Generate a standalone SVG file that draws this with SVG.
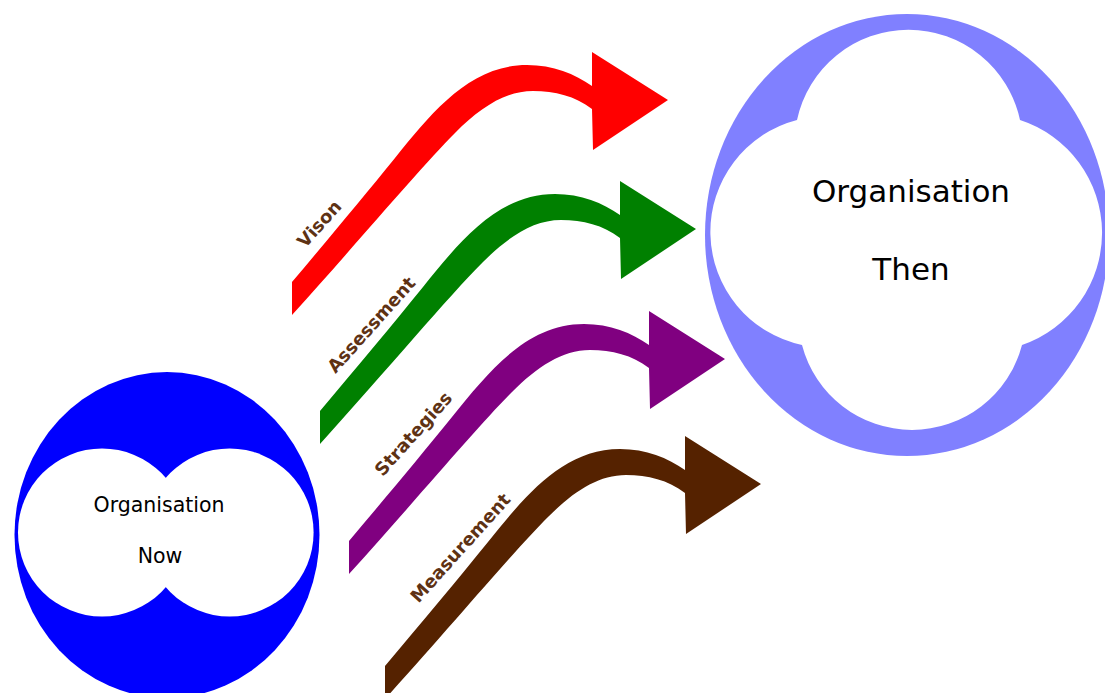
<svg xmlns="http://www.w3.org/2000/svg" xmlns:xlink="http://www.w3.org/1999/xlink" width="1105" height="693" viewBox="0 0 1105 693">
<defs>
<style>
.node-text{font-family:"DejaVu Sans","Liberation Sans",sans-serif;fill:#000;text-anchor:middle}
.label{font-family:"DejaVu Sans","Liberation Sans",sans-serif;font-weight:bold;font-size:18px;fill:#5e3214;text-anchor:middle}
</style>
<path id="arrow" d="M292,282 C330,237 365,195 395,158 C432,112 470,65 527,65 C553,65 575,74 592,86 L592,52 L668,100 L593,150 L592,109 C575,96 555,91 533,91 C505,91 480,108 455,133 C420,168 360,240 292,315 Z"/>
</defs>
<rect width="1105" height="693" fill="#fff"/>
<g id="now">
<ellipse cx="167" cy="535" rx="152.5" ry="163" fill="#0000ff"/>
<circle cx="102" cy="532.5" r="84" fill="#fff"/>
<circle cx="229.6" cy="532.5" r="84" fill="#fff"/>
<text class="node-text" x="159" y="512" font-size="20.5">Organisation</text>
<text class="node-text" x="160" y="563" font-size="20.5">Now</text>
</g>
<g id="then">
<ellipse cx="907" cy="235" rx="202" ry="221" fill="#8080ff"/>
<path d="M797,120 A114,114 0 0 1 1020,120 A118.6,118.6 0 0 1 1022,345 A113.7,113.7 0 0 1 802,345 A115.6,115.6 0 0 1 797,120 Z" fill="#fff"/>
<text class="node-text" x="911" y="202" font-size="31">Organisation</text>
<text class="node-text" x="911" y="280" font-size="31">Then</text>
</g>
<g id="connectors">
<use xlink:href="#arrow" href="#arrow" fill="#ff0000"/>
<use xlink:href="#arrow" href="#arrow" fill="#008000" transform="translate(28,129)"/>
<use xlink:href="#arrow" href="#arrow" fill="#800080" transform="translate(57,259)"/>
<use xlink:href="#arrow" href="#arrow" fill="#552200" transform="translate(93,384)"/>
<text class="label" transform="translate(324,228) rotate(-48)">Vison</text>
<text class="label" transform="translate(376,329) rotate(-48)">Assessment</text>
<text class="label" transform="translate(418,438) rotate(-48)">Strategies</text>
<text class="label" transform="translate(465,552) rotate(-48)">Measurement</text>
</g>
</svg>
